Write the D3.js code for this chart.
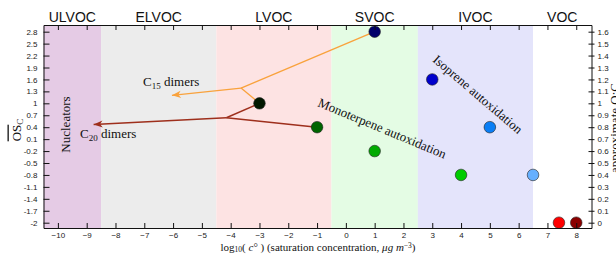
<!DOCTYPE html>
<html>
<head>
<meta charset="utf-8">
<script src="https://cdn.jsdelivr.net/npm/d3@7/dist/d3.min.js"></script>
<style>
  html, body { margin: 0; padding: 0; background: #fff; }
  svg { display: block; }
  .tick text { font-family: "Liberation Sans", Arial, sans-serif; font-size: 8px; fill: #222; }
  .serif { font-family: "Liberation Serif", "Times New Roman", serif; fill: #111; }
</style>
</head>
<body>
<svg id="chart" width="616" height="254"></svg>
<script>
// ---------------- data ----------------
const volatilityClasses = ["ULVOC", "ELVOC", "LVOC", "SVOC", "IVOC", "VOC"];
const classBounds = [[-10.5, -8.5], [-8.5, -4.5], [-4.5, -0.5], [-0.5, 2.5], [2.5, 6.5], [6.5, 8.53]];
const classColors = ["#e5cbe5", "#ececec", "#fde3e3", "#e4fce4", "#e4e4fb", "#ffffff"];

const xTicks = [-10, -9, -8, -7, -6, -5, -4, -3, -2, -1, 0, 1, 2, 3, 4, 5, 6, 7, 8];
const leftTicks = [2.8, 2.5, 2.2, 1.9, 1.6, 1.3, 1, 0.7, 0.4, 0.1, -0.2, -0.5, -0.8, -1.1, -1.4, -1.7, -2];
const rightTicks = [0, 0.1, 0.2, 0.3, 0.4, 0.5, 0.6, 0.7, 0.8, 0.9, 1, 1.1, 1.2, 1.3, 1.4, 1.5, 1.6];

// points: log10(C*), approximate O:C
const pointLogC = [1, 3, 5, 6.5, -3, -1, 1, 4, 7.4, 8.0];
const pointOC   = [1.6, 1.2, 0.8, 0.4, 1.0, 0.8, 0.6, 0.4, 0, 0];
const pointColors = ["#00006a", "#0000cc", "#0a7ef5", "#66b0ff", "#001800", "#006400", "#00aa00", "#00cc00", "#ff0000", "#8b0000"];

// dimer pathways: [from, junction, branch-to, arrow tip]
const c15Path = [[1, 1.6], [-3.64, 1.128], [-3, 1.0], [-6.04, 1.067]];
const c20Path = [[-1, 0.8], [-4.15, 0.879], [-3, 1.0], [-8.76, 0.823]];

// ---------------- layout ----------------
const svg = d3.select("#chart");
const L = 43.5, R = 591.5, T = 25, B = 228;
const x = d3.scaleLinear().domain([-10.5, 8.53]).range([L, R]);
const yOC = d3.scaleLinear().domain([-0.0444, 1.656]).range([B, T]);
const yOS = d3.scaleLinear().domain([3 * -0.0444 - 2, 3 * 1.656 - 2]).range([B, T]);

// regions
svg.append("g").selectAll("rect").data(classBounds).join("rect")
  .attr("x", d => x(d[0])).attr("y", T)
  .attr("width", d => x(d[1]) - x(d[0])).attr("height", B - T)
  .attr("fill", (d, i) => classColors[i]);

// class labels
svg.append("g").selectAll("text").data(volatilityClasses).join("text")
  .attr("x", (d, i) => x((classBounds[i][0] + classBounds[i][1]) / 2))
  .attr("y", 22)
  .attr("text-anchor", "middle")
  .style("font-family", "'Liberation Sans', Arial, sans-serif")
  .style("font-size", "14px")
  .attr("fill", "#111")
  .text(d => d);

// arrow markers
const defs = svg.append("defs");
function marker(id, color) {
  defs.append("marker").attr("id", id)
    .attr("viewBox", "-10 -5 10 10").attr("refX", 0).attr("refY", 0)
    .attr("markerWidth", 10).attr("markerHeight", 10)
    .attr("markerUnits", "userSpaceOnUse").attr("orient", "auto")
    .append("path").attr("d", "M0,0 L-9,-3.6 L-6.5,0 L-9,3.6 Z").attr("fill", color);
}
marker("arrOrange", "#f9a23c");
marker("arrBrown", "#9e2f1c");

function drawPath(p, color, mk, w) {
  const g = svg.append("g").attr("stroke", color).attr("stroke-width", w).attr("fill", "none");
  const seg = (a, b) => g.append("line")
    .attr("x1", x(a[0])).attr("y1", yOC(a[1])).attr("x2", x(b[0])).attr("y2", yOC(b[1]));
  seg(p[0], p[1]);
  seg(p[1], p[2]);
  seg(p[1], p[3]).attr("marker-end", `url(#${mk})`);
}
drawPath(c15Path, "#f9a23c", "arrOrange", 1.3);
drawPath(c20Path, "#9e2f1c", "arrBrown", 1.5);

// points
svg.append("g").selectAll("circle").data(pointLogC).join("circle")
  .attr("cx", d => x(d)).attr("cy", (d, i) => yOC(pointOC[i]))
  .attr("r", 5.8)
  .attr("fill", (d, i) => pointColors[i])
  .attr("stroke", "#222").attr("stroke-width", 0.6);

// annotation texts
function dimerLabel(tx, ty, sub) {
  const t = svg.append("text").attr("class", "serif").attr("x", tx).attr("y", ty).style("font-size", "13px");
  t.append("tspan").text("C");
  t.append("tspan").attr("dy", 3).style("font-size", "9px").text(sub);
  t.append("tspan").attr("dy", -3).text(" dimers");
}
dimerLabel(143, 86, "15");
dimerLabel(80, 138, "20");

svg.append("text").attr("class", "serif")
  .attr("transform", "translate(69.5,124.5) rotate(-90)")
  .attr("text-anchor", "middle").style("font-size", "13px").text("Nucleators");

svg.append("text").attr("class", "serif")
  .attr("transform", "translate(317,106) rotate(22.5)")
  .style("font-size", "13px").text("Monoterpene autoxidation");

svg.append("text").attr("class", "serif")
  .attr("transform", "translate(432,61) rotate(40.5)")
  .style("font-size", "13px").text("Isoprene autoxidation");

// axes
const axB = svg.append("g").attr("transform", `translate(0,${B})`)
  .call(d3.axisBottom(x).tickValues(xTicks).tickSizeInner(-5).tickSizeOuter(0).tickPadding(7).tickFormat(d3.format("d")));
const axT = svg.append("g").attr("transform", `translate(0,${T})`)
  .call(d3.axisTop(x).tickValues(xTicks).tickSizeInner(-5).tickSizeOuter(0).tickFormat(""));
const axL = svg.append("g").attr("transform", `translate(${L},0)`)
  .call(d3.axisLeft(yOS).tickValues(leftTicks).tickSizeInner(-6).tickSizeOuter(0).tickPadding(10).tickFormat(d => String(d)));
const axR = svg.append("g").attr("transform", `translate(${R},0)`)
  .call(d3.axisRight(yOC).tickValues(rightTicks).tickSizeInner(3).tickSizeOuter(0).tickPadding(3).tickFormat(d => String(d)));
axR.selectAll(".tick line").attr("x1", -3);
[axB, axT, axL, axR].forEach(a => {
  a.select(".domain").attr("stroke", "#111").attr("stroke-width", 1);
  a.selectAll(".tick line").attr("stroke", "#111");
});
axL.selectAll(".tick text").attr("x", -6);
axB.selectAll(".tick text").attr("y", 4.5);

// axis titles
const xt = svg.append("text").attr("class", "serif").attr("x", 318).attr("y", 250.5)
  .attr("text-anchor", "middle").style("font-size", "11px");
xt.append("tspan").text("log");
xt.append("tspan").attr("dy", 1.5).style("font-size", "7.5px").text("10");
xt.append("tspan").attr("dy", -1.5).text("( ");
xt.append("tspan").style("font-style", "italic").text("c");
xt.append("tspan").text("° ) (saturation concentration, ");
xt.append("tspan").style("font-style", "italic").text("μg m");
xt.append("tspan").attr("dy", -3).style("font-size", "7.5px").text("−3");
xt.append("tspan").attr("dy", 3).text(")");

const yl = svg.append("text").attr("class", "serif")
  .attr("transform", "translate(20.5,130) rotate(-90)")
  .attr("text-anchor", "middle").style("font-size", "13px");
yl.append("tspan").style("text-decoration", "overline").text("OS");
yl.append("tspan").attr("dy", 2.5).style("font-size", "9px").text("C");

svg.append("text").attr("class", "serif")
  .attr("transform", "translate(619,128) rotate(-90)")
  .attr("text-anchor", "middle").style("font-size", "13px").text("approximate O:C");
</script>
</body>
</html>
